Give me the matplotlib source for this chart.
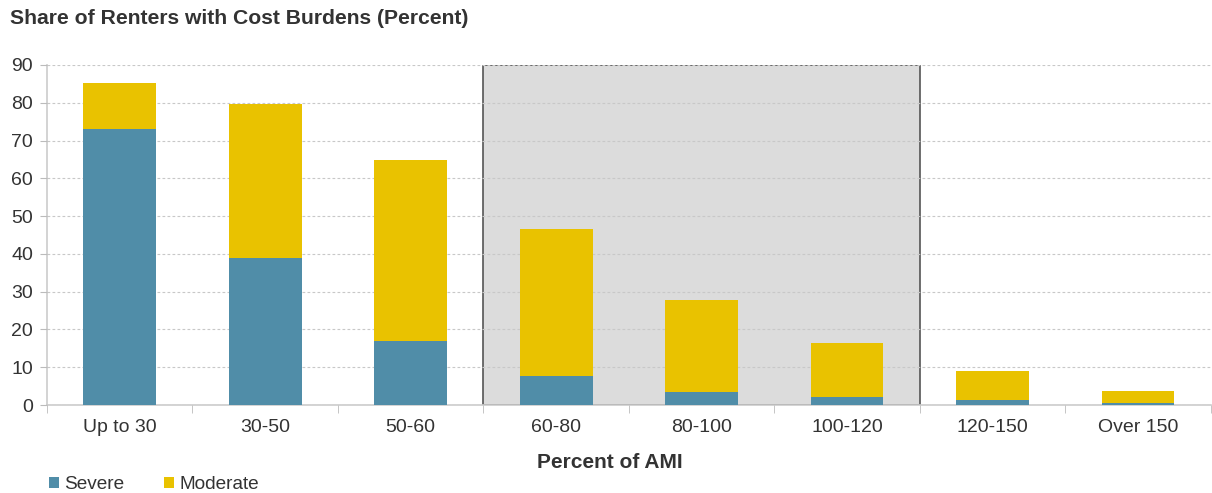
import matplotlib
matplotlib.use("Agg")
import matplotlib.pyplot as plt
import numpy as np
from matplotlib.patches import Rectangle

categories = ["Up to 30", "30-50", "50-60", "60-80", "80-100", "100-120", "120-150", "Over 150"]
severe = [73.0, 39.0, 17.0, 7.7, 3.5, 2.0, 1.2, 0.4]
total = [85.2, 79.6, 64.8, 46.6, 27.7, 16.5, 9.0, 3.7]
moderate = [t - s for t, s in zip(total, severe)]

plt.rcParams['font.family'] = ['Liberation Sans', 'DejaVu Sans']

fig = plt.figure(figsize=(12.12, 4.93), dpi=100)
ax = fig.add_axes([47/1212, 1-405/493, 1-47/1212-0.001, (405-65)/493])

c_sev = "#508DA8"
c_mod = "#E9C200"
x = np.arange(len(categories))

ax.add_patch(Rectangle((2.5, 0), 3, 90, facecolor="#DCDCDC", edgecolor="#555555", linewidth=1.2, zorder=1))
ax.bar(x, severe, width=0.5, color=c_sev, zorder=3, label="Severe")
ax.bar(x, moderate, bottom=severe, width=0.5, color=c_mod, zorder=3, label="Moderate")

ax.set_xlim(-0.5, 7.5)
ax.set_ylim(0, 90)
ax.set_yticks(range(0, 91, 10))
ax.yaxis.grid(True, linestyle=(0, (2.5, 2)), color="#C8C8C8", linewidth=0.8, zorder=2)
ax.set_axisbelow(False)
ax.set_xticks(x)
ax.set_xticklabels(categories)
ax.set_xticks(np.arange(-0.5, 8, 1), minor=True)
ax.tick_params(axis='x', which='major', length=0, pad=10, labelsize=14, labelcolor="#333333")
ax.tick_params(axis='x', which='minor', length=6, color="#BBBBBB")
ax.tick_params(axis='y', length=5, color="#BBBBBB", labelsize=14, labelcolor="#333333", pad=5)
for s in ["top", "right"]:
    ax.spines[s].set_visible(False)
for s in ["left", "bottom"]:
    ax.spines[s].set_color("#CCCCCC")
    ax.spines[s].set_linewidth(1.2)

ax.set_xlabel("Percent of AMI", fontsize=15, fontweight="bold", color="#333333")
ax.xaxis.set_label_coords((610 - 47) / 1165, (405 - 462) / 340)
ax.xaxis.label.set_va("center")
fig.text(10/1212, 1-18/493, "Share of Renters with Cost Burdens (Percent)", fontsize=15.2, fontweight="bold",
         color="#333333", va="center", ha="left")

leg = fig.legend(loc="lower left", bbox_to_anchor=(32/1212, -0.035), ncol=2, frameon=False,
                 fontsize=13.7, handlelength=0.5, handleheight=0.5, handletextpad=0.3, columnspacing=2.1)
for t in leg.get_texts():
    t.set_color("#333333")

fig.savefig("out.png", dpi=100)
